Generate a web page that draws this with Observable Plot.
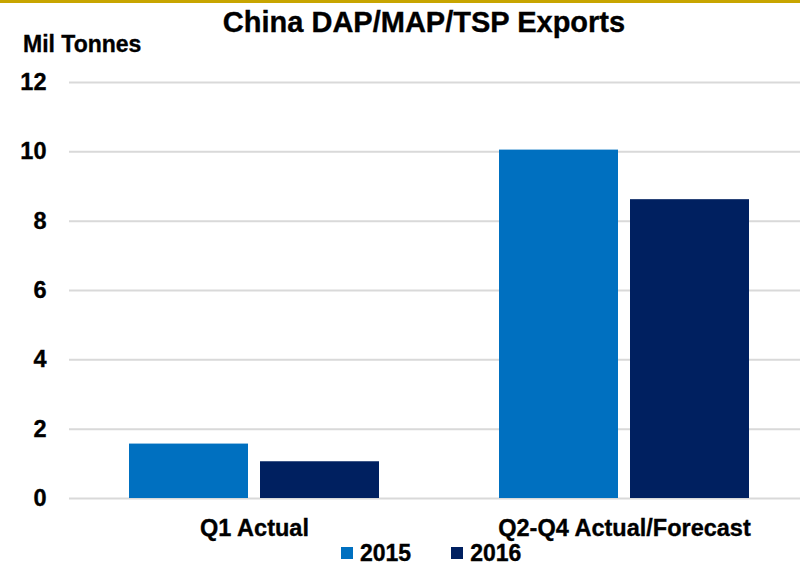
<!DOCTYPE html>
<html>
<head>
<meta charset="utf-8">
<script src="https://cdn.jsdelivr.net/npm/d3@7"></script>
<script src="https://cdn.jsdelivr.net/npm/@observablehq/plot@0.6"></script>
<style>
  html, body { margin: 0; padding: 0; background: #fff; overflow: hidden; width: 800px; height: 566px; }
  #wrap { position: relative; width: 800px; height: 566px; overflow: hidden; font-family: "Liberation Sans", Arial, sans-serif; font-weight: bold; color: #000; -webkit-text-stroke: 0.35px #000; }
  #topline { position: absolute; left: 0; top: 0; width: 800px; height: 3px; background: #c8a500; }
  #title { position: absolute; left: 0; width: 848px; text-align: center; top: 8px; font-size: 29px; line-height: 29px; white-space: nowrap; }
  #unit { position: absolute; left: 23px; top: 33px; font-size: 23px; line-height: 23px; white-space: nowrap; }
  #chart { position: absolute; left: 0; top: 0; width: 809px; }
  #chart svg { max-width: none !important; }
  #chart svg text { stroke: #000; stroke-width: 0.35px; }
  #legend { position: absolute; left: 341px; top: 543px; display: flex; align-items: center; font-size: 23px; line-height: 20px; white-space: nowrap; }
  .sw { width: 12px; height: 12px; display: inline-block; margin-right: 7px; margin-top: -1px; }
  .item { display: flex; align-items: center; margin-right: 40px; }
</style>
</head>
<body>
<div id="wrap">
  <div id="chart"></div>
  <div id="topline"></div>
  <div id="title"></div>
  <div id="unit"></div>
  <div id="legend"></div>
</div>
<script>
const titleText = "China DAP/MAP/TSP Exports";
const unitText = "Mil Tonnes";
const categories = ["Q1 Actual", "Q2-Q4 Actual/Forecast"];
const years = ["2015", "2016"];
const colors = ["#0070C0", "#002060"];
const values2015 = [1.57, 10.05];
const values2016 = [1.06, 8.62];
const yTicks = [0, 2, 4, 6, 8, 10, 12];

const data = [];
categories.forEach((c, i) => {
  data.push({cat: c, year: years[0], value: values2015[i]});
  data.push({cat: c, year: years[1], value: values2016[i]});
});

document.getElementById("title").textContent = titleText;
document.getElementById("unit").textContent = unitText;

const chart = Plot.plot({
  width: 809,
  height: 545,
  marginTop: 82,
  marginBottom: 47,
  marginLeft: 69,
  marginRight: 0,
  facet: {marginTop: 0, marginBottom: 0, marginLeft: 0, marginRight: 0},
  style: {fontFamily: "'Liberation Sans', Arial, sans-serif", fontWeight: "bold", fontSize: "23.5px", color: "#000", background: "transparent", maxWidth: "none"},
  fx: {domain: categories, padding: 0, axis: "bottom", tickSize: 0, tickPadding: 21, label: null},
  x: {domain: years, paddingInner: 0.0909, paddingOuter: 0.447, axis: null},
  y: {domain: [0, 12], ticks: yTicks, tickSize: 0, tickPadding: 23, label: null, axis: "left"},
  color: {domain: years, range: colors},
  marks: [
    Plot.ruleY(yTicks, {stroke: "#d9d9d9", strokeWidth: 2}),
    Plot.barY(data, {fx: "cat", x: "year", y: "value", fill: "year"})
  ]
});
document.getElementById("chart").appendChild(chart);

const legend = document.getElementById("legend");
years.forEach((y, i) => {
  const item = document.createElement("div");
  item.className = "item";
  const sw = document.createElement("span");
  sw.className = "sw";
  sw.style.background = colors[i];
  const t = document.createElement("span");
  t.textContent = y;
  item.appendChild(sw);
  item.appendChild(t);
  legend.appendChild(item);
});
</script>
</body>
</html>
